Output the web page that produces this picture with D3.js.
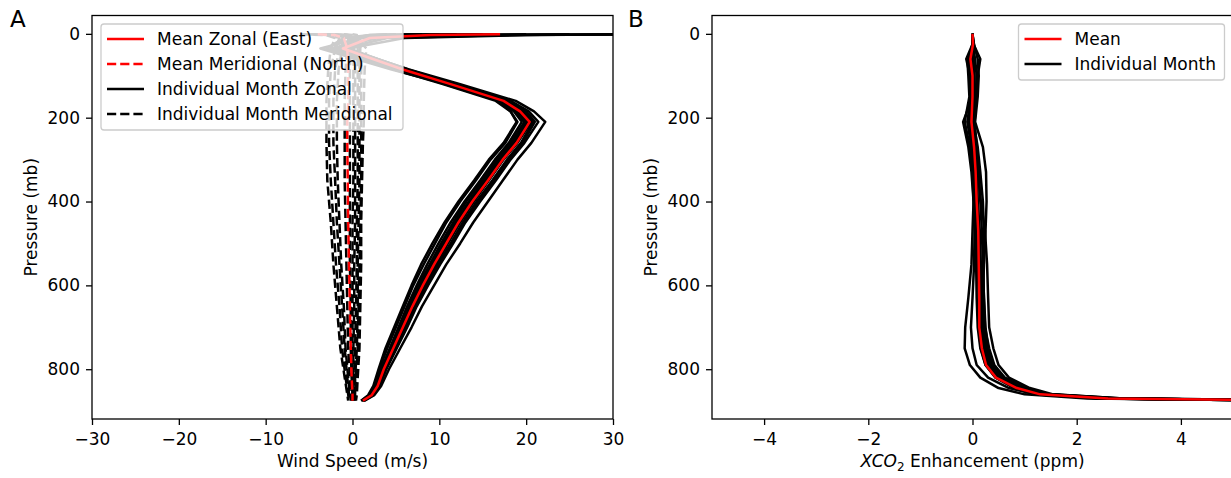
<!DOCTYPE html>
<html>
<head>
<meta charset="utf-8">
<script src="https://cdn.jsdelivr.net/npm/d3@7"></script>
<style>
  body { margin: 0; background: #fff; }
  text { font-family: "DejaVu Sans", sans-serif; fill: #000; }
</style>
</head>
<body>
<script>
// Wind profiles (panel A) and XCO2 enhancement profiles (panel B)

// ---- panel A data: pressure levels (mb) and wind speed (m/s) ----
const zonalLevels = [1, 3, 10, 35, 85, 120, 160, 185, 210, 260, 300, 350, 400, 450, 500, 550, 600, 650, 700, 750, 800, 840, 862, 875];

const zonalMean = [17, 9, 2, -1.1, 5.8, 11.3, 17.4, 19.3, 20.4, 18.9, 17.3, 15.6, 13.8, 12.2, 10.8, 9.4, 8.1, 6.9, 5.8, 4.7, 3.6, 2.9, 2.2, 1.2];

const zonalMonths = [
  [35, 20, 6, -0.5, 6.2, 11.0, 17.0, 18.6, 19.5, 18.0, 16.4, 14.7, 12.9, 11.3, 9.9, 8.6, 7.4, 6.3, 5.3, 4.3, 3.3, 2.7, 2.0, 1.1],
  [32, 18, 4, -1.0, 5.5, 11.6, 17.8, 19.8, 20.8, 19.4, 17.8, 16.1, 14.3, 12.7, 11.3, 9.8, 8.5, 7.2, 6.1, 4.9, 3.8, 3.0, 2.3, 1.3],
  [30, 14, 3, -2.5, 4.8, 10.4, 16.5, 18.2, 19.0, 17.6, 15.9, 14.2, 12.4, 10.8, 9.5, 8.2, 7.0, 6.0, 5.0, 4.0, 3.1, 2.5, 1.9, 1.0],
  [25, 10, 1, -3.7, 4.5, 10.8, 17.2, 19.1, 20.2, 18.6, 17.0, 15.3, 13.5, 11.9, 10.5, 9.1, 7.9, 6.7, 5.6, 4.5, 3.5, 2.8, 2.1, 1.2],
  [20, 8, 2, -0.8, 6.5, 12.4, 18.8, 20.9, 22.2, 20.6, 19.0, 17.3, 15.6, 13.9, 12.4, 10.8, 9.4, 8.0, 6.8, 5.5, 4.2, 3.3, 2.5, 1.4],
  [15, 6, 0, -1.5, 5.8, 11.4, 17.5, 19.4, 20.4, 18.8, 17.2, 15.5, 13.7, 12.1, 10.7, 9.3, 8.0, 6.8, 5.7, 4.6, 3.6, 2.9, 2.2, 1.2],
  [12, 5, 1, -2.0, 5.2, 10.8, 16.8, 18.8, 19.8, 18.2, 16.6, 14.9, 13.1, 11.6, 10.2, 8.9, 7.6, 6.5, 5.4, 4.4, 3.4, 2.8, 2.1, 1.1],
  [10, 4, 0, -1.2, 6.0, 11.9, 18.2, 20.3, 21.4, 19.8, 18.2, 16.5, 14.7, 13.0, 11.6, 10.1, 8.7, 7.4, 6.3, 5.1, 3.9, 3.1, 2.4, 1.3],
  [8, 3, -1, -3.0, 5.0, 11.0, 17.0, 19.0, 20.0, 18.4, 16.8, 15.1, 13.4, 11.8, 10.4, 9.0, 7.8, 6.6, 5.5, 4.5, 3.5, 2.8, 2.1, 1.2],
  [8, 4, 1, -0.6, 6.4, 11.8, 18.0, 20.0, 21.0, 19.6, 18.0, 16.3, 14.5, 12.8, 11.4, 9.9, 8.6, 7.3, 6.2, 5.0, 3.8, 3.1, 2.3, 1.3],
  [5, 2, -1, -2.2, 5.6, 11.2, 17.4, 19.5, 20.6, 19.0, 17.4, 15.7, 14.0, 12.4, 11.0, 9.6, 8.3, 7.0, 5.9, 4.8, 3.7, 3.0, 2.2, 1.2],
  [4, 2, 0, -1.6, 5.4, 10.6, 16.8, 18.2, 18.9, 17.4, 15.7, 14.0, 12.2, 10.6, 9.2, 7.9, 6.8, 5.8, 4.8, 3.8, 3.0, 2.4, 1.8, 1.0]
];

const meridLevels = [1, 3, 10, 35, 85, 160, 210, 260, 350, 450, 550, 650, 750, 820, 860, 875];

const meridMean = [-4.0, -2.0, -1.0, -0.6, -0.5, -0.5, -0.6, -0.6, -0.55, -0.5, -0.4, -0.3, -0.2, -0.1, 0.0, 0.0];

const meridMonths = [
  [-6, -3, -2.0, -2.5, -2.8, -3.0, -3.0, -3.0, -2.9, -2.5, -2.2, -1.8, -1.4, -0.9, -0.6, -0.5],
  [-5, -2.5, -1.5, -2.0, -2.5, -2.7, -2.7, -2.7, -2.5, -2.2, -1.9, -1.5, -1.2, -0.8, -0.5, -0.4],
  [-3, -1.5, -1.0, -1.5, -2.0, -2.2, -2.2, -2.2, -2.0, -1.8, -1.5, -1.2, -0.9, -0.6, -0.4, -0.3],
  [-4, -2, -1.2, -1.2, -1.6, -1.8, -1.8, -1.8, -1.7, -1.5, -1.3, -1.0, -0.8, -0.5, -0.3, -0.2],
  [-2, -1, -0.5, -0.6, -0.8, -0.9, -0.9, -0.9, -0.9, -0.8, -0.7, -0.6, -0.5, -0.3, -0.2, -0.1],
  [-1, -0.5, -0.2, -0.2, -0.3, -0.3, -0.3, -0.3, -0.3, -0.3, -0.3, -0.2, -0.2, -0.1, 0.0, 0.0],
  [0, 0.5, 0.3, 0.2, 0.1, 0.1, 0.1, 0.1, 0.1, 0.0, 0.0, 0.0, 0.0, 0.0, 0.0, 0.0],
  [-1, 0, 0.4, 0.4, 0.3, 0.3, 0.3, 0.3, 0.3, 0.3, 0.2, 0.2, 0.1, 0.1, 0.1, 0.1],
  [-2, -1, 0.3, 0.6, 0.6, 0.6, 0.6, 0.6, 0.6, 0.5, 0.5, 0.4, 0.3, 0.2, 0.2, 0.1],
  [-3, -1, 0.5, 0.9, 0.8, 0.8, 0.8, 0.8, 0.8, 0.7, 0.6, 0.6, 0.5, 0.3, 0.3, 0.2],
  [-4, -2, 0.2, 1.0, 1.0, 1.0, 1.0, 1.0, 1.0, 0.9, 0.8, 0.7, 0.6, 0.4, 0.3, 0.3],
  [-5, -2, 0.5, 1.6, 1.4, 1.3, 1.3, 1.2, 1.1, 1.0, 1.0, 0.9, 0.8, 0.6, 0.5, 0.4]
];

// ---- panel B data: pressure levels (mb) and XCO2 enhancement (ppm) ----
const xcoLevels = [0, 25, 60, 100, 150, 210, 270, 330, 400, 470, 550, 630, 700, 750, 790, 820, 845, 860, 870, 875];

const xcoMean = [0.00, 0.01, -0.04, 0.0, 0.0, -0.02, 0.03, 0.06, 0.08, 0.11, 0.12, 0.13, 0.13, 0.18, 0.26, 0.45, 0.85, 1.3, 2.6, 6.5];

const xcoMonths = [
  [0.00, 0.02, -0.10, -0.08, -0.06, -0.15, -0.05, 0.00, 0.03, 0.05, 0.07, 0.08, 0.10, 0.15, 0.25, 0.45, 0.80, 1.20, 2.40, 6.0],
  [0.00, 0.00, 0.05, 0.08, 0.06, 0.02, 0.10, 0.15, 0.20, 0.22, 0.20, 0.22, 0.25, 0.30, 0.40, 0.60, 1.00, 1.50, 2.90, 7.0],
  [0.00, 0.00, -0.12, -0.05, -0.03, -0.10, -0.02, 0.00, 0.02, 0.00, -0.02, -0.08, -0.14, -0.15, -0.05, 0.15, 0.50, 1.00, 2.20, 6.0],
  [0.00, 0.01, -0.05, 0.00, 0.00, -0.18, -0.08, -0.02, 0.02, 0.04, 0.03, 0.00, -0.03, 0.00, 0.08, 0.30, 0.70, 1.20, 2.50, 6.2],
  [0.00, 0.03, 0.10, 0.12, 0.10, 0.05, 0.20, 0.26, 0.27, 0.25, 0.22, 0.20, 0.22, 0.28, 0.38, 0.58, 0.95, 1.40, 2.70, 6.8],
  [0.00, 0.00, -0.02, 0.02, 0.01, 0.00, 0.04, 0.08, 0.10, 0.12, 0.14, 0.15, 0.16, 0.22, 0.32, 0.52, 0.90, 1.35, 2.65, 6.5],
  [0.00, 0.01, 0.00, 0.03, 0.02, 0.02, 0.05, 0.07, 0.10, 0.14, 0.16, 0.18, 0.20, 0.26, 0.36, 0.55, 0.92, 1.40, 2.75, 6.6],
  [0.00, 0.00, -0.08, -0.04, -0.02, -0.06, 0.00, 0.03, 0.06, 0.09, 0.12, 0.14, 0.15, 0.20, 0.28, 0.48, 0.85, 1.30, 2.55, 6.4],
  [0.00, 0.02, 0.15, 0.10, 0.08, 0.04, 0.08, 0.12, 0.15, 0.18, 0.20, 0.22, 0.24, 0.32, 0.42, 0.62, 1.02, 1.45, 2.80, 6.9],
  [0.00, 0.00, -0.03, 0.00, 0.02, -0.04, 0.02, 0.05, 0.07, 0.10, 0.12, 0.14, 0.18, 0.24, 0.34, 0.55, 0.95, 1.40, 2.70, 6.7],
  [0.00, 0.01, 0.02, 0.04, 0.04, 0.00, 0.06, 0.10, 0.16, 0.24, 0.28, 0.30, 0.32, 0.40, 0.50, 0.70, 1.10, 1.55, 2.90, 7.0],
  [0.00, 0.00, -0.06, -0.02, -0.01, -0.08, -0.01, 0.02, 0.05, 0.08, 0.10, 0.12, 0.12, 0.16, 0.25, 0.44, 0.82, 1.25, 2.50, 6.3]
];

// ---- ticks ----
const pressureTicks = [0, 200, 400, 600, 800];
const windTicks = [-30, -20, -10, 0, 10, 20, 30];
const xcoTicks = [-4, -2, 0, 2, 4];

// ---- layout ----
const outerWidth = 1231, outerHeight = 478;
const plotTop = 15.5, plotBottom = 419;
const fontSize = 17;
const lw = 2.5;
const dash = "9.2,4";

const svg = d3.select("body").append("svg")
    .attr("width", outerWidth)
    .attr("height", outerHeight);

// shared pressure axis (inverted, matplotlib style 5% margins)
const yScale = d3.scaleLinear().domain([-43.75, 918.75]).range([plotTop, plotBottom]);

function drawPanel(p) {
  const x = d3.scaleLinear().domain(p.xDomain).range([p.left, p.right]);
  const g = svg.append("g");

  g.append("clipPath").attr("id", p.id + "-clip")
    .append("rect")
    .attr("x", p.left).attr("y", plotTop)
    .attr("width", p.right - p.left).attr("height", plotBottom - plotTop);

  const lines = g.append("g").attr("clip-path", "url(#" + p.id + "-clip)");

  const line = d3.line()
      .x(d => x(d[0]))
      .y(d => yScale(d[1]));

  // individual months first, means on top
  p.series.forEach(s => {
    const zip = vals => vals.map((v, i) => [v, s.levels[i]]);
    lines.selectAll(null)
      .data(s.data)
      .enter().append("path")
      .attr("d", d => line(zip(d)))
      .attr("fill", "none")
      .attr("stroke", s.color)
      .attr("stroke-width", lw)
      .attr("stroke-dasharray", s.dashed ? dash : null)
      .attr("stroke-linejoin", "round");
  });

  // axes
  const xAxis = g.append("g")
      .attr("transform", "translate(0," + plotBottom + ")")
      .call(d3.axisBottom(x).tickValues(p.xTicks).tickSize(6).tickSizeOuter(0).tickPadding(7.5));
  const yAxis = g.append("g")
      .attr("transform", "translate(" + p.left + ",0)")
      .call(d3.axisLeft(yScale).tickValues(pressureTicks).tickSize(6).tickSizeOuter(0).tickPadding(6));

  [xAxis, yAxis].forEach(a => {
    a.select(".domain").remove();
    a.selectAll(".tick line").attr("stroke", "#000").attr("stroke-width", 1.3);
    a.selectAll(".tick text").attr("font-size", fontSize).attr("font-family", "DejaVu Sans").attr("fill", "#000");
  });

  g.append("rect")
    .attr("x", p.left).attr("y", plotTop)
    .attr("width", p.right - p.left).attr("height", plotBottom - plotTop)
    .attr("fill", "none").attr("stroke", "#000").attr("stroke-width", 1.3);

  // axis labels
  g.append("text")
    .attr("transform", "translate(" + p.yLabelX + "," + ((plotTop + plotBottom) / 2) + ") rotate(-90)")
    .attr("text-anchor", "middle")
    .attr("dy", "0.35em")
    .attr("font-size", fontSize)
    .text("Pressure (mb)");

  const xl = g.append("text")
    .attr("x", (p.left + p.right) / 2)
    .attr("y", 467)
    .attr("text-anchor", "middle")
    .attr("font-size", fontSize);
  p.xLabel(xl);

  // panel letter
  g.append("text")
    .attr("x", p.letterX).attr("y", 27)
    .attr("font-size", 23)
    .text(p.letter);

  // legend
  const lg = g.append("g");
  lg.append("rect")
    .attr("x", p.legend.x).attr("y", 24)
    .attr("width", p.legend.w).attr("height", 6 + p.legend.items.length * 25)
    .attr("rx", 3)
    .attr("fill", "#fff").attr("fill-opacity", 0.8)
    .attr("stroke", "#cccccc").attr("stroke-width", 1.3);

  p.legend.items.forEach((it, i) => {
    const yy = 39 + i * 25;
    lg.append("line")
      .attr("x1", p.legend.x + 6).attr("x2", p.legend.x + 43)
      .attr("y1", yy).attr("y2", yy)
      .attr("stroke", it.color).attr("stroke-width", lw)
      .attr("stroke-dasharray", it.dashed ? dash : null);
    lg.append("text")
      .attr("x", p.legend.x + 56).attr("y", yy)
      .attr("dy", "0.35em")
      .attr("font-size", fontSize)
      .text(it.label);
  });
}

// Panel A: winds
drawPanel({
  id: "wind",
  left: 92, right: 613,
  xDomain: [-30, 30],
  xTicks: windTicks,
  series: [
    {data: zonalMonths, levels: zonalLevels, color: "#000", dashed: false},
    {data: meridMonths, levels: meridLevels, color: "#000", dashed: true},
    {data: [zonalMean], levels: zonalLevels, color: "#ff0000", dashed: false},
    {data: [meridMean], levels: meridLevels, color: "#ff0000", dashed: true}
  ],
  yLabelX: 31,
  xLabel: t => t.text("Wind Speed (m/s)"),
  letter: "A", letterX: 10,
  legend: {
    x: 101, w: 302,
    items: [
      {label: "Mean Zonal (East)", color: "#ff0000", dashed: false},
      {label: "Mean Meridional (North)", color: "#ff0000", dashed: true},
      {label: "Individual Month Zonal", color: "#000", dashed: false},
      {label: "Individual Month Meridional", color: "#000", dashed: true}
    ]
  }
});

// Panel B: XCO2 enhancement
drawPanel({
  id: "xco",
  left: 712, right: 1233,
  xDomain: [-5, 5],
  xTicks: xcoTicks,
  series: [
    {data: xcoMonths, levels: xcoLevels, color: "#000", dashed: false},
    {data: [xcoMean], levels: xcoLevels, color: "#ff0000", dashed: false}
  ],
  yLabelX: 651,
  xLabel: t => {
    t.append("tspan").attr("font-style", "italic").text("XCO");
    t.append("tspan").attr("font-size", 12).attr("dy", 4).text("2");
    t.append("tspan").attr("dy", -4).text(" Enhancement (ppm)");
  },
  letter: "B", letterX: 628,
  legend: {
    x: 1018.5, w: 206,
    items: [
      {label: "Mean", color: "#ff0000", dashed: false},
      {label: "Individual Month", color: "#000", dashed: false}
    ]
  }
});
</script>
</body>
</html>
